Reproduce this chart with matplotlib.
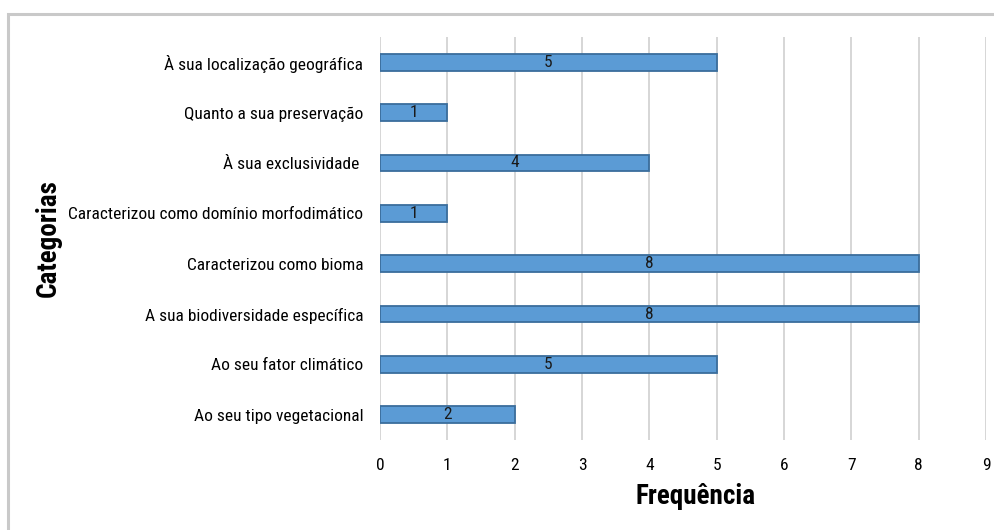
import matplotlib.pyplot as plt
from matplotlib import font_manager
from matplotlib.patches import Rectangle

# Data (bottom to top)
categorias = ['Ao seu tipo vegetacional', 'Ao seu fator climático',
              'A sua biodiversidade específica', 'Caracterizou como bioma',
              'Caracterizou como domínio morfodimático', 'À sua exclusividade ',
              'Quanto a sua preservação', 'À sua localização geográfica']
frequencia = [2, 5, 8, 8, 1, 4, 1, 5]
xticks = list(range(0, 10))

# pick a narrow font if one is around
nomes = {f.name for f in font_manager.fontManager.ttflist}
estreitas = [f.name for f in font_manager.fontManager.ttflist
             if f.stretch in ('condensed', 'semi-condensed', 'extra-condensed')]
fonte = None
for cand in ['Liberation Sans Narrow', 'Roboto Condensed', 'Open Sans Condensed',
             'Noto Sans Condensed']:
    if cand in nomes:
        fonte = cand
        break
if fonte is None and estreitas:
    fonte = estreitas[0]
if fonte is None:
    fonte = 'Liberation Sans'
plt.rcParams['font.family'] = [fonte, 'DejaVu Sans']
plt.rcParams['font.stretch'] = 'condensed'

fig = plt.figure(figsize=(9.95, 5.3), dpi=100)
ax = fig.add_axes([0.382, 0.170, 0.609, 0.760])

# Outer gray frame
fig.patches.append(Rectangle((8 / 995, -0.1), 1.2, 1 - 14 / 530 + 0.1,
                             transform=fig.transFigure, fill=False,
                             edgecolor='#c9c9c9', linewidth=2.2))

y = list(range(len(categorias)))
ax.barh(y, frequencia, height=0.33, color='#5b9bd5',
        edgecolor='#3a6d9c', linewidth=1.3, zorder=3)
for yi, v in zip(y, frequencia):
    ax.text(v / 2, yi, str(v), ha='center', va='center', fontsize=12.5,
            color='#1a1a1a', zorder=4)

ax.set_xlim(0, 9)
ax.set_ylim(-0.5, len(categorias) - 0.5)
ax.set_xticks(xticks)
ax.set_yticks(y)
ax.set_yticklabels(categorias, fontsize=12.5)
ax.tick_params(axis='x', labelsize=12.5, length=0, pad=13)
ax.tick_params(axis='y', length=0, pad=12)
ax.grid(axis='x', color='#d0d0d0', linewidth=1.2, zorder=0)
for s in ax.spines.values():
    s.set_visible(False)

ax.set_xlabel('Frequência', fontsize=19.5, fontweight='bold', va='center')
ax.xaxis.set_label_coords(0.52, -0.141)
fig.text(48 / 995, 1 - 238 / 530, 'Categorias', rotation=90, fontsize=19.5,
         fontweight='bold', ha='center', va='center')

fig.savefig('out.png', dpi=100)
